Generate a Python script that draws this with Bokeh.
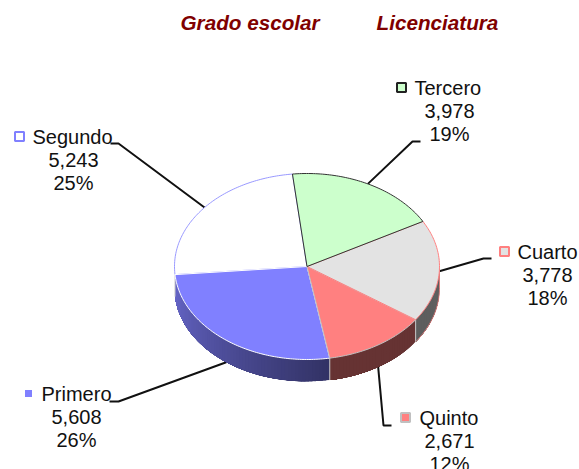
import math
from bokeh.plotting import figure
from bokeh.embed import file_html
from bokeh.resources import INLINE
from bokeh.core.properties import value

categories = ["Tercero", "Cuarto", "Quinto", "Primero", "Segundo"]
values = [3978, 3778, 2671, 5608, 5243]
value_labels = ["3,978", "3,778", "2,671", "5,608", "5,243"]
pct_labels = ["19%", "18%", "12%", "26%", "25%"]
titles = ["Grado escolar", "Licenciatura"]

fills = ["#CCFFCC", "#E3E3E3", "#FF8080", "#8080FF", "#FFFFFF"]
edges = ["#333333", "#FF8080", "#C0C0C0", "#FFFFFF", "#9999FF"]
key_edges = ["#222222", "#FF8080", "#C0C0C0", "#FFFFFF", "#8080FF"]
side_far = [None, "#5E5E5E", "#663333", "#6868CC", None]
side_near = [None, "#606060", "#663333", "#333366", None]

W, H = 579, 469
CX, CY, RX, RY, DEPTH = 306.5, 266.0, 132.5, 93.0, 22.0
START = -6.3

# label layout: key x, key y, name x, value x, first line y, leader elbow, leader end
layout = {
    "Tercero": (401, 87, 414, 449, 87, (412, 141), (420, 141)),
    "Cuarto": (504, 251, 517, 547, 251, (483, 258), (491, 258)),
    "Quinto": (405, 417, 419, 449, 417, (383, 425), (391, 425)),
    "Primero": (28, 393, 41, 76, 393, (118, 401), (109, 401)),
    "Segundo": (19, 136, 32, 73, 136, (118, 143), (110, 143)),
}

p = figure(width=W, height=H, x_range=(0, W), y_range=(H, 0),
           output_backend="svg", toolbar_location=None, min_border=0)
p.axis.visible = False
p.grid.visible = False
p.outline_line_color = None
p.background_fill_color = "#FFFFFF"


def pt(deg):
    a = math.radians(deg)
    return CX + RX * math.sin(a), CY - RY * math.cos(a)


def hex2rgb(h):
    return tuple(int(h[i:i + 2], 16) for i in (1, 3, 5))


total = sum(values)
spans = []
a = START
for v in values:
    b = a + 360 * v / total
    spans.append((a, b))
    a = b

# leader lines, behind the pie; slices at the front anchor on the wall's lower rim
for c, (a0, a1) in zip(categories, spans):
    mid = (a0 + a1) / 2
    sx, sy = pt(mid)
    if 120 < mid < 240:
        sy += DEPTH
    l = layout[c]
    p.line([sx, l[5][0], l[6][0]], [sy, l[5][1], l[6][1]], line_color="#111111", line_width=2)

# side wall, from the slices that face the viewer; painted so that
# each strip overlaps the next and no seams show
for i, (a0, a1) in enumerate(spans):
    if side_far[i] is None:
        continue
    t0, t1 = max(a0, 90), min(a1, 270)
    n = max(2, int((t1 - t0) / 1.5))
    cf, cn = hex2rgb(side_far[i]), hex2rgb(side_near[i])
    for k in range(n):
        u0 = t0 + (t1 - t0) * k / n
        f = (u0 - t0) / (t1 - t0)
        col = tuple(int(cn[j] + (cf[j] - cn[j]) * f) for j in range(3))
        colour = "#%02X%02X%02X" % col
        xs, ys = [], []
        for m in range(9):
            x, y = pt(u0 + (t1 - u0) * m / 8)
            xs.append(x)
            ys.append(y)
        p.patch(xs + xs[::-1], ys + [y + DEPTH for y in ys[::-1]],
                fill_color=colour, line_color=None)

# pink rim of the grey slice's wall
a0, a1 = spans[1]
rim = [pt(90 + (a1 - 90) * m / 20) for m in range(21)]
p.line([rim[0][0]] + [q[0] for q in rim], [rim[0][1]] + [q[1] + DEPTH for q in rim],
       line_color="#FF8080", line_width=1, line_alpha=0.7)

# wall seams at slice boundaries
for a0, a1 in spans:
    if 90 < a0 < 270:
        x0, y0 = pt(a0)
        p.line([x0, x0], [y0, y0 + DEPTH], line_color="#C8C8C8", line_width=1)

# top surface
for i in [4, 3, 2, 1, 0]:
    a0, a1 = spans[i]
    n = max(2, int(a1 - a0))
    xs, ys = [CX], [CY]
    for k in range(n + 1):
        x, y = pt(a0 + (a1 - a0) * k / n)
        xs.append(x)
        ys.append(y)
    p.patch(xs, ys, fill_color=fills[i], line_color=edges[i], line_width=1)

# labels
FONT = value("Liberation Sans")
SIZE = "20px"
for i, c in enumerate(categories):
    l = layout[c]
    p.rect([l[0]], [l[1]], width=9, height=9, fill_color=fills[i], line_color=key_edges[i], line_width=2)
    p.text([l[2]], [l[4]], text=[c], text_font=FONT, text_font_size=SIZE,
           text_color="#111111", text_align="left", text_baseline="middle")
    p.text([l[3]], [l[4] + 23], text=[value_labels[i]], text_font=FONT, text_font_size=SIZE,
           text_color="#111111", text_align="center", text_baseline="middle")
    p.text([l[3]], [l[4] + 46], text=[pct_labels[i]], text_font=FONT, text_font_size=SIZE,
           text_color="#111111", text_align="center", text_baseline="middle")

for t, tx in zip(titles, [180, 376]):
    p.text([tx], [22], text=[t], text_font=FONT, text_font_size="20.7px", text_font_style="bold italic",
           text_color="#800000", text_align="left", text_baseline="middle")

open("out.html", "w").write(file_html(p, INLINE))
